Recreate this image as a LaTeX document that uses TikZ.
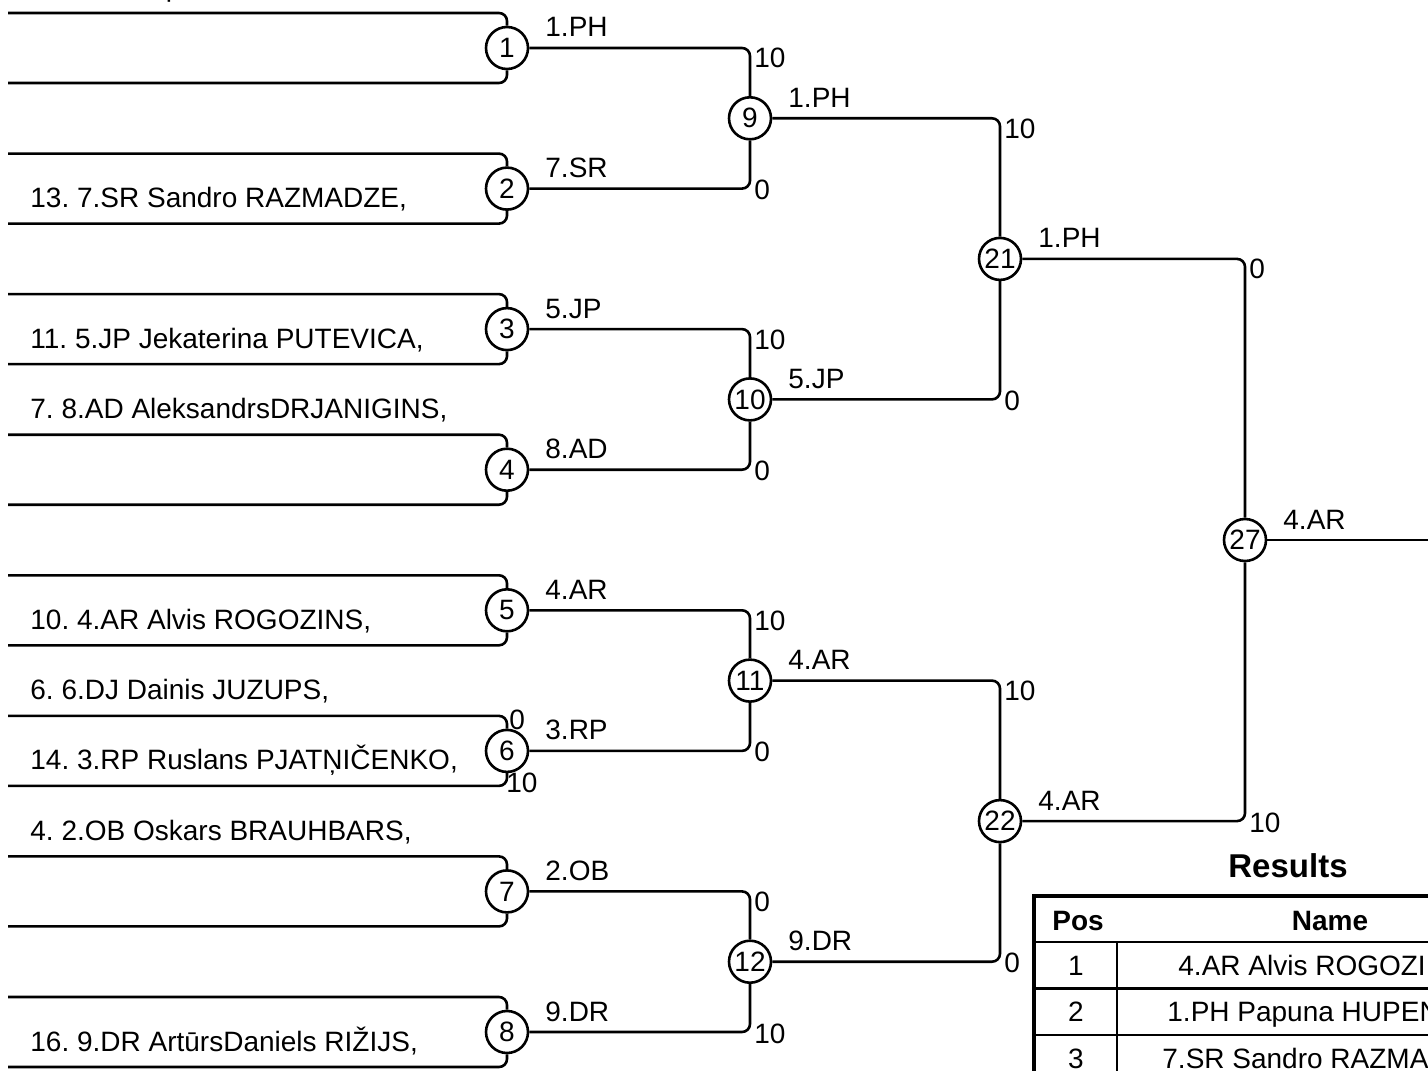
\documentclass[tikz,border=0pt]{standalone}
\usepackage{fontspec}
\setmainfont{Liberation Sans}
\usetikzlibrary{positioning}
\frenchspacing

\begin{document}
\begin{tikzpicture}[
  x=0.5pt, y=-0.5pt,
  game/.style={circle, draw, line width=1.3pt, fill=white, minimum size=21pt, inner sep=0pt, font=\fontsize{14}{16}\selectfont},
  lbl/.style={inner sep=0pt, anchor=base west, font=\fontsize{14}{16}\selectfont},
  hi/.style={lbl, xshift=2pt, yshift=-10pt},
  lo/.style={lbl, xshift=2pt, yshift=-5.5pt},
  cell/.style={inner sep=0pt, anchor=base, font=\fontsize{14}{16}\selectfont},
  head/.style={cell, font=\bfseries\fontsize{14}{16}\selectfont},
  bracket/.style={line width=1.3pt, rounded corners=4pt},
  rule/.style={line width=1.2pt}
]
\useasboundingbox (0,0) rectangle (1428,1070);
\clip (0,0) rectangle (1428,1070);

% first round
\foreach \n/\y/\w in {1/48/1.PH, 2/188.6/7.SR, 3/329.1/5.JP, 4/469.7/8.AD, 5/610.3/4.AR, 6/750.9/3.RP, 7/891.4/2.OB, 8/1032/9.DR} {
  \node[game] (m\n) at (507,\y) {\n};
  \coordinate (t\n) at (8,\y-35);
  \coordinate (b\n) at (8,\y+35);
  \draw[bracket] (m\n) -- (m\n |- t\n) -- (t\n);
  \draw[bracket] (m\n) -- (m\n |- b\n) -- (b\n);
  \node[lbl] (w\n) at (545,\y-11) {\w};
}

% entrants
\node[lbl] (n1) at (30,-3) {1. 1.PH Papuna};
\node[lbl] (n13) at (30,207.6) {13. 7.SR Sandro RAZMADZE,};
\node[lbl] (n11) at (30,348) {11. 5.JP Jekaterina PUTEVICA,};
\node[lbl] (n7) at (30,418.7) {7. 8.AD AleksandrsDRJANIGINS,};
\node[lbl] (n10) at (30,629.3) {10. 4.AR Alvis ROGOZINS,};
\node[lbl] (n6) at (30,699.9) {6. 6.DJ Dainis JUZUPS,};
\node[lbl] (n14) at (30,769.9) {14. 3.RP Ruslans PJATŅIČENKO,};
\node[lbl] (n4) at (30,840.4) {4. 2.OB Oskars BRAUHBARS,};
\node[lbl] (n16) at (30,1051) {16. 9.DR ArtūrsDaniels RIŽIJS,};
\node[lbl] (r6a) at (509,729) {0};
\node[lbl] (r6b) at (506,792) {10};

% later rounds
\foreach \n/\x/\y/\w in {9/750/118.3/1.PH, 10/750/399.4/5.JP, 11/750/680.6/4.AR, 12/750/961.7/9.DR, 21/1000/258.9/1.PH, 22/1000/821.1/4.AR, 27/1245/540/4.AR} {
  \node[game] (m\n) at (\x,\y) {\n};
  \node[lbl] (w\n) at (\x+38,\y-11) {\w};
}

\foreach \a/\b/\g/\sa/\sb in {1/2/9/10/0, 3/4/10/10/0, 5/6/11/10/0, 7/8/12/0/10, 9/10/21/10/0, 11/12/22/10/0, 21/22/27/0/10} {
  \draw[bracket] (m\a) -- (m\a -| m\g) -- (m\g);
  \draw[bracket] (m\b) -- (m\b -| m\g) -- (m\g);
  \node[hi] at (m\a -| m\g) {\sa};
  \node[lo] at (m\b -| m\g) {\sb};
}
\coordinate (out) at (1460,540);
\draw[bracket] (m27) -- (out);

% results
\node[font=\bfseries\fontsize{16.5}{19}\selectfont] (res) at (1288,866) {Results};
\draw[line width=2.2pt] (1034,1090) -- (1034,896) -- (1450,896);
\draw[rule] (1034,942) -- (1450,942);
\draw[rule] (1034,988.5) -- (1450,988.5);
\draw[rule] (1034,1035) -- (1450,1035);
\draw[rule] (1117,942) -- (1117,1090);
\node[head] (hpos) at (1078,930) {Pos};
\node[head] (hname) at (1330,930) {Name};
\node[cell] (c1) at (1076,975) {1};
\node[cell] (c2) at (1076,1021) {2};
\node[cell] (c3) at (1076,1068) {3};
\node[lbl] (d1) at (1178,975) {4.AR Alvis ROGOZINS};
\node[lbl] (d2) at (1167,1021) {1.PH Papuna HUPEN};
\node[lbl] (d3) at (1162,1068) {7.SR Sandro RAZMADZE};
\end{tikzpicture}
\end{document}
